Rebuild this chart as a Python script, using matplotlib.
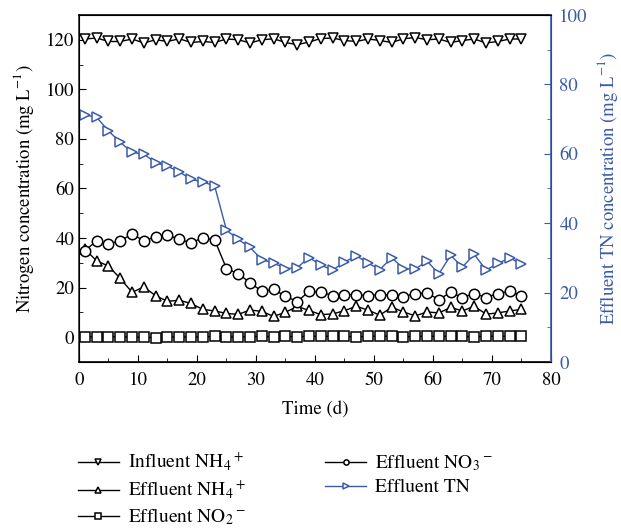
import matplotlib
matplotlib.use('Agg')
import matplotlib.pyplot as plt
from matplotlib.ticker import MultipleLocator

plt.rcParams['font.family'] = 'STIXGeneral'
plt.rcParams['mathtext.fontset'] = 'stix'

blue = '#3b5ba9'

days = list(range(1, 76, 2))

influent_nh4 = [120.3, 120.7, 119.3, 119.3, 120.3, 118.7, 120.0, 119.3, 120.4, 118.9,
                119.3, 118.9, 120.3, 120.0, 118.7, 120.0, 120.4, 118.9, 118.0, 119.1,
                120.5, 120.7, 119.7, 119.3, 120.3, 119.7, 118.9, 120.4, 120.9, 120.0,
                120.3, 118.9, 119.7, 120.3, 118.7, 119.3, 120.3, 120.3]
effluent_nh4 = [35.5, 30.8, 28.7, 23.7, 18.1, 20.3, 16.7, 14.5, 14.9, 13.6,
                11.2, 10.6, 9.6, 9.2, 11.0, 10.4, 8.4, 10.1, 12.4, 10.8,
                9.1, 9.4, 10.7, 12.5, 10.9, 8.9, 12.1, 10.2, 8.6, 10.2,
                9.8, 12.0, 10.6, 12.5, 9.3, 9.8, 10.6, 11.2]
effluent_no2 = [0.2, 0.2, 0.2, 0.2, 0.0, 0.0, -0.2, 0.1, 0.1, 0.1,
                0.1, 0.4, 0.1, 0.1, 0.2, 0.3, 0.2, 0.3, 0.2, 0.4,
                0.3, 0.4, 0.3, 0.2, 0.3, 0.4, 0.3, 0.2, 0.3, 0.4,
                0.3, 0.4, 0.3, 0.2, 0.3, 0.4, 0.3, 0.4]
effluent_no3 = [34.9, 38.9, 37.6, 38.9, 41.6, 38.9, 40.5, 41.2, 39.5, 38.1,
                40.1, 39.2, 27.7, 25.6, 22.0, 18.5, 19.3, 16.5, 14.4, 18.5,
                18.2, 16.8, 17.2, 17.2, 16.8, 17.2, 17.0, 16.4, 17.6, 17.8,
                15.2, 18.1, 16.0, 17.6, 16.0, 17.6, 18.6, 16.6]
effluent_tn = [71.2, 70.5, 66.6, 63.3, 60.4, 59.9, 57.4, 56.4, 54.8, 52.6,
               51.9, 50.7, 38.0, 35.3, 33.0, 29.5, 28.5, 26.9, 27.2, 30.1,
               27.9, 26.5, 28.8, 30.6, 28.5, 26.6, 30.1, 26.9, 26.8, 29.1,
               25.4, 30.7, 27.4, 31.0, 26.5, 28.4, 30.0, 28.2]

fig = plt.figure(figsize=(6.21, 5.29), dpi=100)
ax = fig.add_axes([0.1272, 0.3157, 0.76, 0.656])
ax2 = ax.twinx()

kw = dict(color='black', lw=1.0, ms=7.5, mfc='white', mew=1.1)
l1, = ax.plot(days, influent_nh4, marker='v', label=r'Influent NH$_4$$^+$', **kw)
l2, = ax.plot(days, effluent_nh4, marker='^', label=r'Effluent NH$_4$$^+$', **kw)
l3, = ax.plot(days, effluent_no2, marker='s', label=r'Effluent NO$_2$$^-$', **kw)
l4, = ax.plot(days, effluent_no3, marker='o', label=r'Effluent NO$_3$$^-$', **kw)
l5, = ax2.plot(days, effluent_tn, marker='>', color=blue, lw=1.0, ms=7.5,
               mfc='white', mew=1.1, label='Effluent TN')

ax.set_xlim(0, 80)
ax.set_ylim(-10, 130)
ax2.set_ylim(0, 100)

ax.xaxis.set_major_locator(MultipleLocator(10))
ax.xaxis.set_minor_locator(MultipleLocator(5))
ax.yaxis.set_major_locator(MultipleLocator(20))
ax.yaxis.set_minor_locator(MultipleLocator(10))
ax2.yaxis.set_major_locator(MultipleLocator(20))
ax2.yaxis.set_minor_locator(MultipleLocator(10))

ax.tick_params(which='both', direction='in', top=False, right=False, labelsize=13.5)
ax.tick_params(which='major', length=5)
ax.tick_params(which='minor', length=3)
ax.tick_params(axis='x', pad=7)
ax2.tick_params(which='both', direction='in', colors=blue, labelsize=13.5)
ax2.tick_params(which='major', length=5, pad=6)
ax2.tick_params(which='minor', length=3)

ax2.spines['right'].set_color(blue)
ax2.spines['right'].set_linewidth(1.2)
for s in ['left', 'bottom', 'top']:
    ax.spines[s].set_linewidth(1.2)
ax.spines['left'].set_color('#333333')

ax.set_xlabel('Time (d)', fontsize=13.5, labelpad=9)
ax.set_ylabel(r'Nitrogen concentration (mg L$^{-1}$)', fontsize=13.5, labelpad=7)
ax2.set_ylabel(r'Effluent TN concentration (mg L$^{-1}$)', fontsize=13.5, color=blue,
               labelpad=5)

fig.legend(handles=[l1, l2, l3, l4, l5], ncol=2, loc='upper left',
           bbox_to_anchor=(78 / 621, 1 - 451 / 529), borderpad=0, borderaxespad=0,
           frameon=False, fontsize=14, markerscale=0.5, handlelength=2.1,
           columnspacing=4.1, labelspacing=0.28, handletextpad=0.45)

fig.savefig('out.png', dpi=100)
